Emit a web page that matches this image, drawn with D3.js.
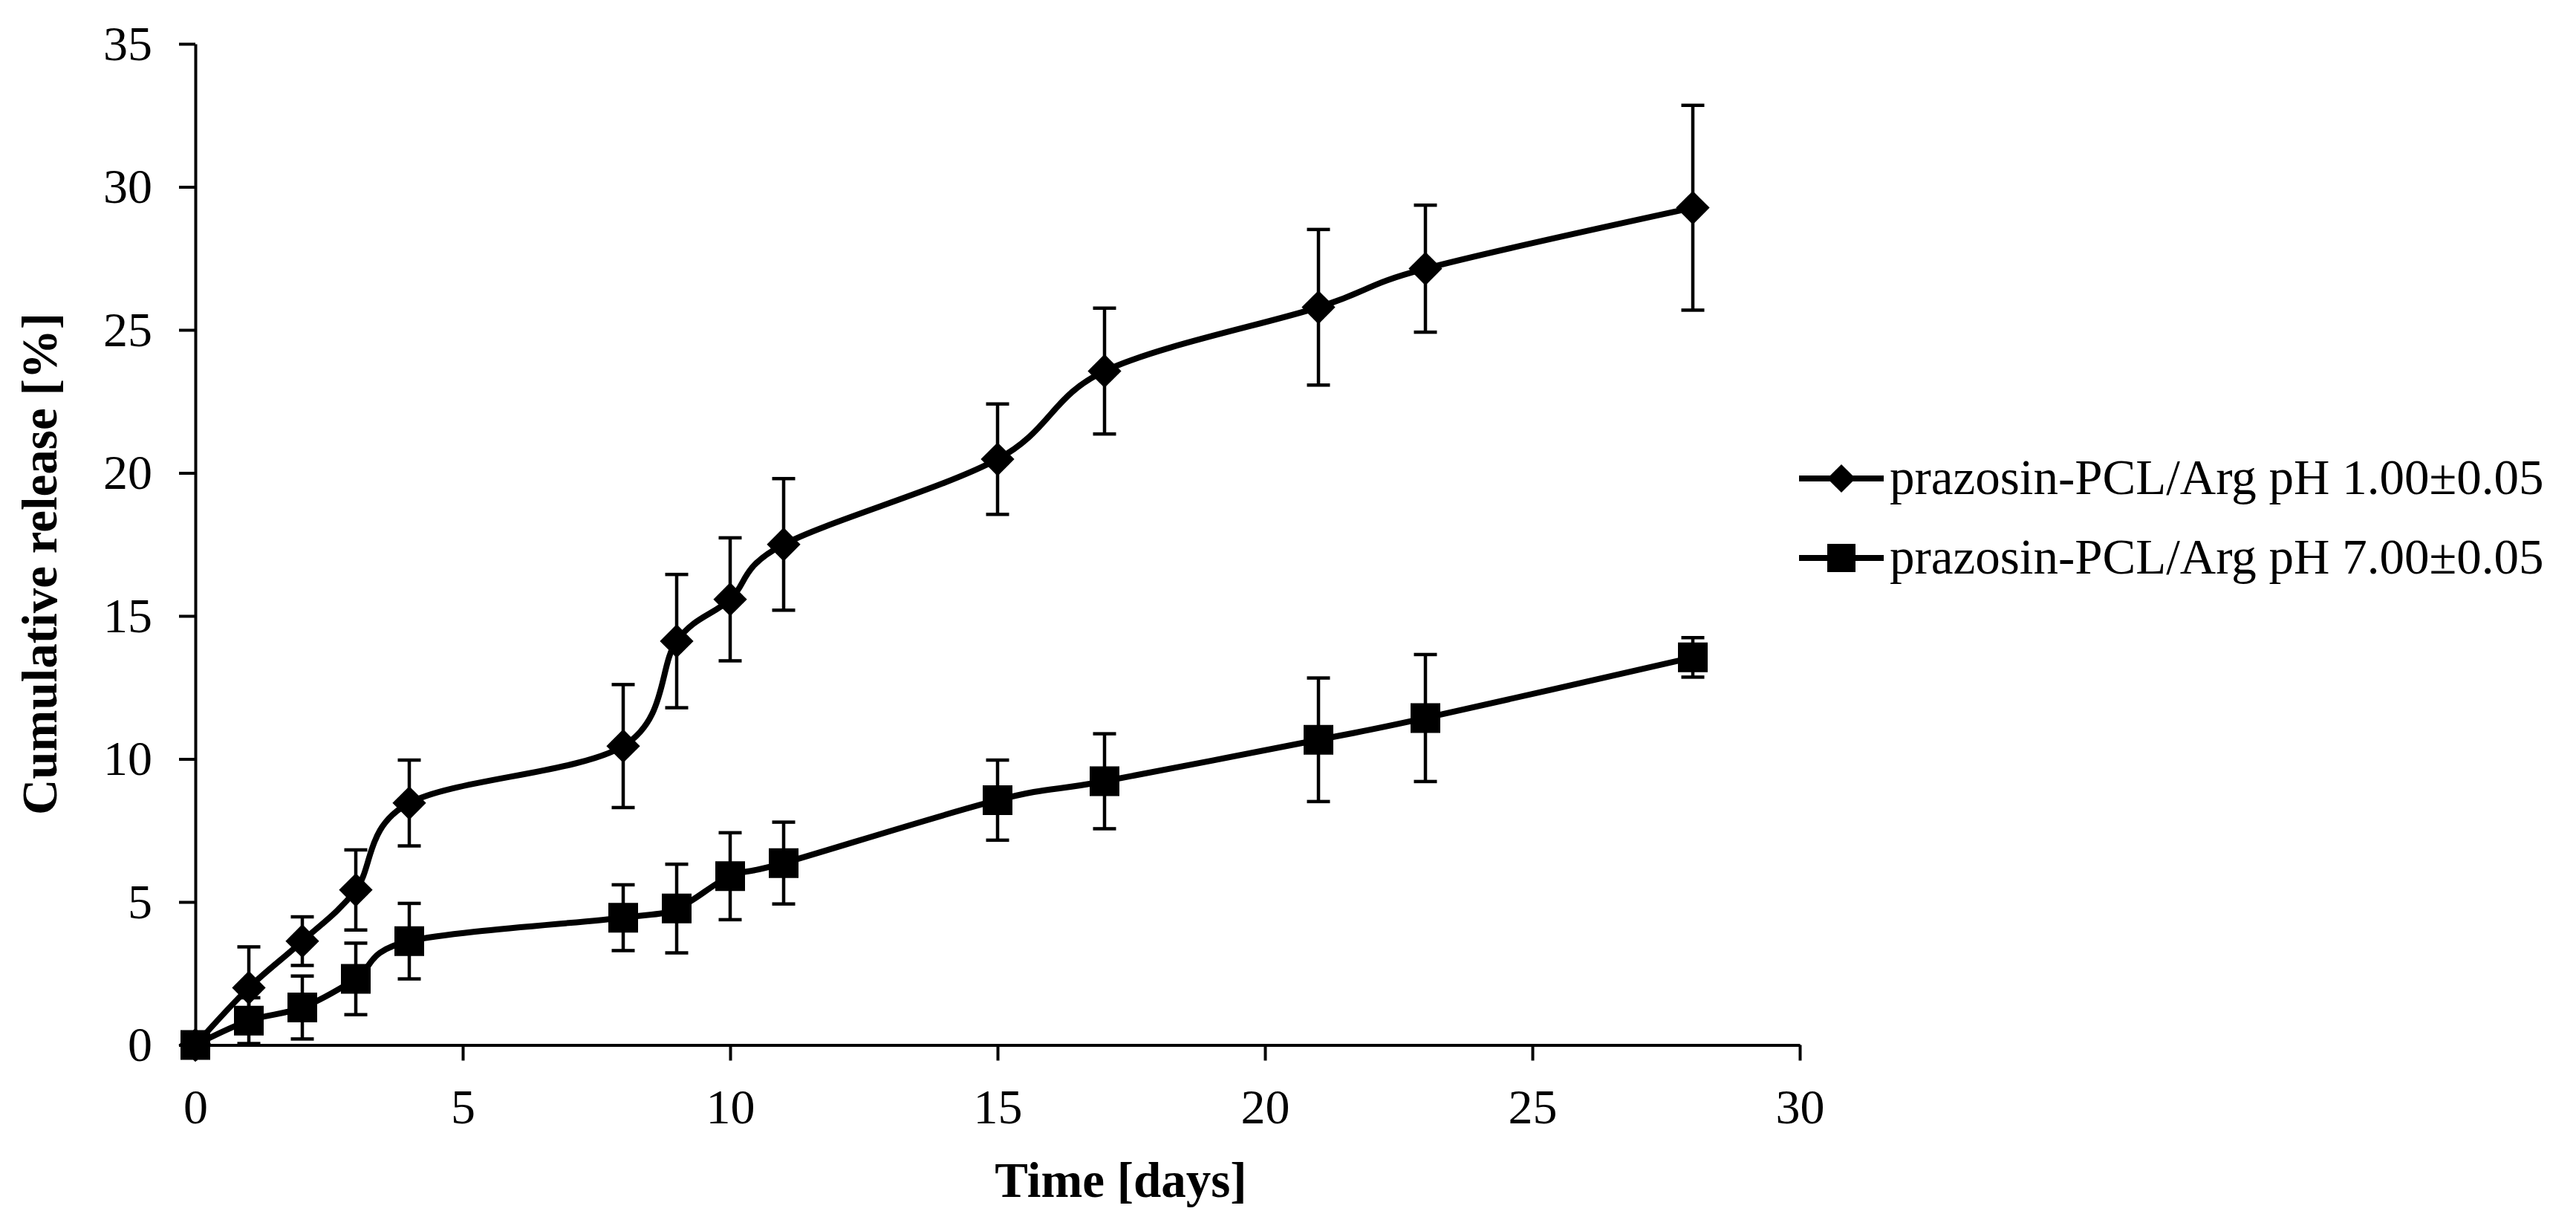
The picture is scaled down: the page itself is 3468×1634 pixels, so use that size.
<!DOCTYPE html>
<html>
<head>
<meta charset="utf-8">
<script src="https://cdn.jsdelivr.net/npm/d3@7"></script>
<style>
  body { margin: 0; background: #fff; }
  text { font-family: "Liberation Serif", "Times New Roman", serif; fill: #000; }
</style>
</head>
<body>
<script>
const WIDTH = 3468;
const HEIGHT = 1634;

// data
const DAYS = [0, 1, 2, 3, 4, 8, 9, 10, 11, 15, 17, 21, 23, 28];
const PH1_RELEASE = [0, 2.0, 3.63, 5.42, 8.46, 10.45, 14.12, 15.58, 17.5, 20.48, 23.56, 25.79, 27.14, 29.27];
const PH1_SD = [0, 1.43, 0.85, 1.4, 1.5, 2.15, 2.33, 2.15, 2.3, 1.93, 2.2, 2.72, 2.22, 3.58];
const PH7_RELEASE = [0, 0.85, 1.31, 2.31, 3.63, 4.45, 4.77, 5.9, 6.36, 8.56, 9.22, 10.67, 11.43, 13.55];
const PH7_SD = [0, 0.8, 1.1, 1.25, 1.32, 1.15, 1.55, 1.52, 1.43, 1.4, 1.66, 2.16, 2.22, 0.69];
const SERIES_NAMES = ["prazosin-PCL/Arg pH 1.00±0.05", "prazosin-PCL/Arg pH 7.00±0.05"];
const X_TICKS = [0, 5, 10, 15, 20, 25, 30];
const Y_TICKS = [0, 5, 10, 15, 20, 25, 30, 35];
const X_TITLE = "Time [days]";
const Y_TITLE = "Cumulative release [%]";

const FONT_SIZE = 66;

const svg = d3.select("body")
              .append("svg")
              .attr("width", WIDTH)
              .attr("height", HEIGHT);

svg.append("rect").attr("width", WIDTH).attr("height", HEIGHT).attr("fill", "#fff");

//the scales
const xScale = d3.scaleLinear().domain([0, 30]).range([263, 2423]);
const yScale = d3.scaleLinear().domain([0, 35]).range([1406.5, 59]);

//marker shapes: square, and a square turned 45deg for the diamond
const squarePath = d3.symbol(d3.symbolSquare, 40 * 40)();
const diamondPath = d3.symbol(d3.symbolSquare, 32 * 32)();
const legendDiamond = d3.symbol(d3.symbolSquare, 27 * 27)();
const legendSquare = d3.symbol(d3.symbolSquare, 38 * 38)();

const series = [
  {name: SERIES_NAMES[0], values: PH1_RELEASE, sd: PH1_SD, marker: diamondPath, key: legendDiamond, rotate: 45},
  {name: SERIES_NAMES[1], values: PH7_RELEASE, sd: PH7_SD, marker: squarePath, key: legendSquare, rotate: 0}
];

//the axis
const styleAxis = (g) => {
  g.select(".domain").attr("stroke", "#000").attr("stroke-width", 4);
  g.selectAll(".tick line").attr("stroke", "#000").attr("stroke-width", 4);
  g.selectAll(".tick text")
   .attr("font-size", FONT_SIZE)
   .attr("font-family", "Liberation Serif, Times New Roman, serif")
   .attr("fill", "#000");
};

const setAxis = () => {
  svg.append("g")
     .attr("transform", "translate(0, " + yScale(0) + ")")
     .call(d3.axisBottom(xScale).tickValues(X_TICKS).tickSize(21).tickSizeOuter(0).tickPadding(38))
     .call(styleAxis);

  svg.append("g")
     .attr("transform", "translate(" + xScale(0) + ", 0)")
     .call(d3.axisLeft(yScale).tickValues(Y_TICKS).tickSize(22).tickSizeOuter(0).tickPadding(36))
     .call(styleAxis);

  svg.append("text")
     .attr("x", 1509)
     .attr("y", 1611)
     .attr("text-anchor", "middle")
     .attr("font-size", 67)
     .attr("font-weight", "bold")
     .text(X_TITLE);

  svg.append("text")
     .attr("transform", "translate(76, 759) rotate(-90)")
     .attr("text-anchor", "middle")
     .attr("font-size", 67)
     .attr("font-weight", "bold")
     .text(Y_TITLE);
};

//smoothed line, Excel style
const line = d3.line()
               .x((d, i) => xScale(DAYS[i]))
               .y(d => yScale(d))
               .curve(d3.curveCardinal.tension(0));

const drawSeries = (s) => {
  const g = svg.append("g");
  g.append("path")
   .attr("d", line(s.values))
   .attr("fill", "none")
   .attr("stroke", "#000")
   .attr("stroke-width", 8);

  const pts = DAYS.map((d, i) => ({day: d, v: s.values[i], sd: s.sd[i]})).filter(p => p.sd > 0);
  const bars = g.selectAll(".err").data(pts).enter().append("g").attr("class", "err");
  bars.append("line")
      .attr("x1", p => xScale(p.day)).attr("x2", p => xScale(p.day))
      .attr("y1", p => yScale(p.v - p.sd)).attr("y2", p => yScale(p.v + p.sd));
  bars.append("line")
      .attr("x1", p => xScale(p.day) - 15.5).attr("x2", p => xScale(p.day) + 15.5)
      .attr("y1", p => yScale(p.v + p.sd)).attr("y2", p => yScale(p.v + p.sd));
  bars.append("line")
      .attr("x1", p => xScale(p.day) - 15.5).attr("x2", p => xScale(p.day) + 15.5)
      .attr("y1", p => yScale(p.v - p.sd)).attr("y2", p => yScale(p.v - p.sd));
  bars.selectAll("line").attr("stroke", "#000").attr("stroke-width", 4.5);

  g.selectAll(".pt")
   .data(s.values)
   .enter()
   .append("path")
   .attr("class", "pt")
   .attr("d", s.marker)
   .attr("transform", (d, i) => "translate(" + xScale(DAYS[i]) + ", " + yScale(d) + ") rotate(" + s.rotate + ")")
   .attr("fill", "#000");
};

const setLegend = () => {
  const rowsY = [644, 751];
  series.forEach((s, i) => {
    const g = svg.append("g").attr("transform", "translate(0, " + rowsY[i] + ")");
    g.append("line")
     .attr("x1", 2422).attr("x2", 2536)
     .attr("stroke", "#000").attr("stroke-width", 8);
    g.append("path")
     .attr("d", s.key)
     .attr("transform", "translate(2479, 0) rotate(" + s.rotate + ")")
     .attr("fill", "#000");
    g.append("text")
     .attr("x", 2544)
     .attr("dy", "0.32em")
     .attr("font-size", 67)
     .text(s.name);
  });
};

setAxis();
series.forEach(drawSeries);
setLegend();
</script>
</body>
</html>
